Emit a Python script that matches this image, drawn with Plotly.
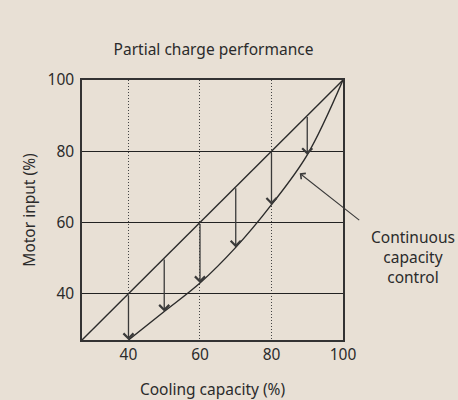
import plotly.graph_objects as go

# Data
capacity = [40, 50, 60, 70, 80, 90, 100]
motor_input = [27, 35, 43, 53, 65, 79, 100]
diag_x = [27, 100]
diag_y = [27, 100]
arrow_x = [40, 50, 60, 70, 80, 90]
arrow_top = [40, 50, 60, 70, 80, 90]
arrow_bottom = [27, 35, 43, 53, 65, 79]
tick_vals = [40, 60, 80, 100]

BG = "#e8e0d5"
INK = "#2b2b2b"
FONT = "Noto Sans, sans-serif"

fig = go.Figure()
fig.add_trace(go.Scatter(x=diag_x, y=diag_y, mode="lines",
                         line=dict(color=INK, width=1.4), hoverinfo="skip"))
fig.add_trace(go.Scatter(x=capacity, y=motor_input, mode="lines",
                         line=dict(color=INK, width=1.4, shape="spline", smoothing=1.0),
                         hoverinfo="skip"))

for x, t, b in zip(arrow_x, arrow_top, arrow_bottom):
    fig.add_annotation(x=x, y=b, ax=x, ay=t, xref="x", yref="y",
                       axref="x", ayref="y", text="", showarrow=True,
                       arrowhead=4, arrowsize=1.5, arrowwidth=1.3,
                       arrowcolor="#3a3a3a")
fig.add_annotation(x=87.9, y=73.8, ax=61, ay=48, xref="x", yref="y",
                   text="", showarrow=True,
                   arrowhead=4, arrowsize=1.3, arrowwidth=1.1, arrowcolor="#3a3a3a")
fig.add_annotation(x=1.27, y=0.319, xref="paper", yref="paper",
                   text="Continuous<br>capacity<br>control", showarrow=False,
                   font=dict(family=FONT, size=15.5, color=INK), align="center",
                   xanchor="center", yanchor="middle")

fig.update_layout(
    width=458, height=400,
    margin=dict(l=82, r=115, t=80, b=60, autoexpand=False),
    paper_bgcolor=BG, plot_bgcolor=BG,
    showlegend=False,
    title=dict(text="Partial charge performance", x=213.5 / 458, xanchor="center",
               y=1 - 50 / 400, yanchor="middle",
               font=dict(family=FONT, size=15.5, color=INK)),
    font=dict(family=FONT, size=15.5, color=INK),
    xaxis=dict(range=[27, 100], tickvals=tick_vals, showgrid=True,
               gridcolor="#444444", griddash="1px,2px", gridwidth=1.2,
               showline=True, linecolor="#333333", linewidth=1.5, mirror=True,
               ticks="", zeroline=False, automargin=False,
               title=dict(text="Cooling capacity (%)", standoff=20,
                          font=dict(family=FONT, size=15.5, color=INK))),
    yaxis=dict(range=[27, 100], tickvals=tick_vals, showgrid=True,
               gridcolor="#222222", gridwidth=1,
               showline=True, linecolor="#333333", linewidth=1.5, mirror=True,
               ticks="", zeroline=False, automargin=False, ticklabelstandoff=3,
               title=dict(text="Motor input (%)", standoff=8,
                          font=dict(family=FONT, size=15.5, color=INK))),
)

fig.write_html("out.html", config={"displayModeBar": False},
               post_script="document.body.style.margin='0';document.body.style.overflow='hidden';")
